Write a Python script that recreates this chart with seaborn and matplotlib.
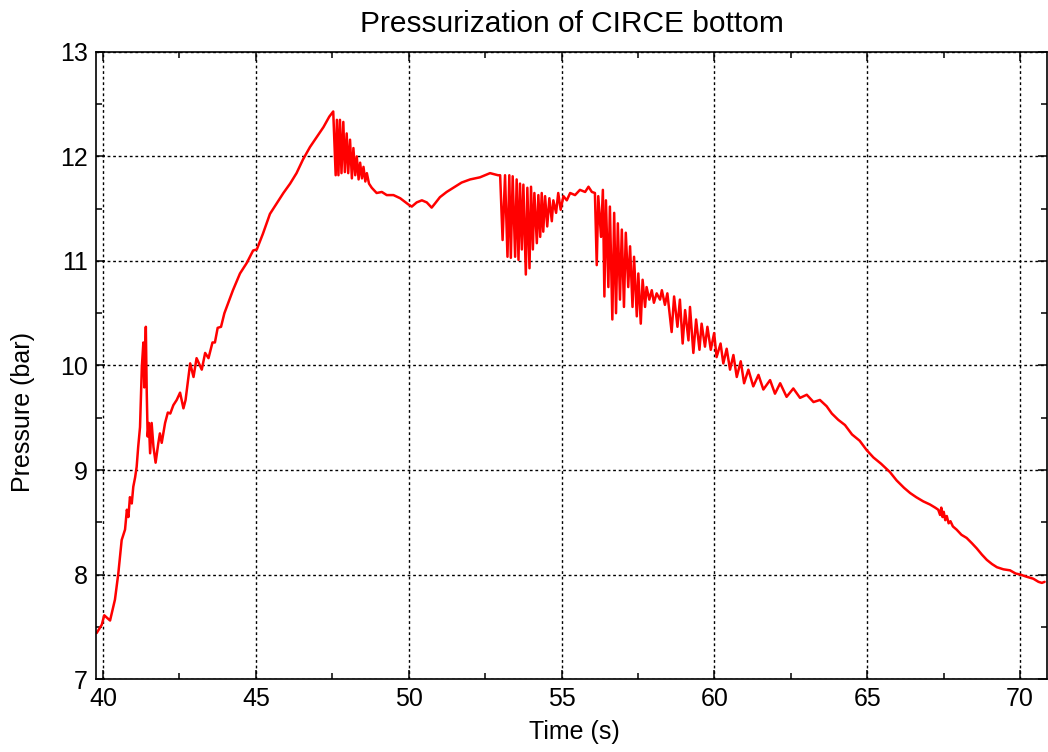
import numpy as np
import matplotlib
matplotlib.use("Agg")
import matplotlib.pyplot as plt
from matplotlib.ticker import MultipleLocator
import seaborn as sns

# pressure trace, split into segments
ramp_t = [39.79, 39.96, 40.04, 40.23, 40.39, 40.50, 40.61, 40.72, 40.78, 40.83,
          40.88, 40.94, 40.99, 41.05, 41.10, 41.15, 41.21, 41.27, 41.32, 41.35,
          41.40, 41.43, 41.46, 41.50, 41.54, 41.59, 41.65, 41.72, 41.81, 41.86,
          41.92, 42.03, 42.12, 42.20, 42.30, 42.41, 42.52, 42.63, 42.70, 42.85,
          42.96, 43.06, 43.23, 43.34, 43.45, 43.58, 43.66, 43.75, 43.86, 43.97]
ramp_p = [7.44, 7.52, 7.61, 7.56, 7.76, 8.01, 8.33, 8.43, 8.62, 8.55,
          8.74, 8.68, 8.84, 8.93, 9.03, 9.22, 9.41, 9.99, 10.22, 9.79,
          10.37, 9.74, 9.32, 9.45, 9.16, 9.45, 9.22, 9.07, 9.26, 9.35,
          9.26, 9.45, 9.55, 9.54, 9.62, 9.67, 9.74, 9.59, 9.67, 10.02,
          9.89, 10.07, 9.96, 10.12, 10.07, 10.22, 10.22, 10.36, 10.37, 10.50]

climb_t = [44.25, 44.48, 44.70, 44.91, 45.03, 45.23, 45.46, 45.68, 45.90, 46.12,
           46.33, 46.54, 46.77, 47.00, 47.21, 47.40, 47.53]
climb_p = [10.72, 10.88, 10.98, 11.10, 11.11, 11.26, 11.45, 11.55, 11.65, 11.74,
           11.84, 11.97, 12.09, 12.19, 12.28, 12.38, 12.43]

peak_t = [47.61, 47.65, 47.70, 47.75, 47.80, 47.86, 47.91, 47.97, 48.02, 48.08,
          48.14, 48.19, 48.25, 48.30, 48.36, 48.41, 48.47, 48.52, 48.58, 48.63,
          48.70, 48.79, 48.95, 49.12, 49.28, 49.50, 49.72, 49.99, 50.10, 50.26,
          50.43, 50.59, 50.75, 50.86, 51.02, 51.24, 51.46, 51.73, 52.01, 52.33,
          52.66, 52.92, 52.99]
peak_p = [11.82, 12.35, 11.82, 12.35, 11.84, 12.33, 11.85, 12.22, 11.84, 12.16,
          11.79, 12.08, 11.82, 12.00, 11.78, 11.94, 11.79, 11.90, 11.76, 11.84,
          11.74, 11.70, 11.65, 11.66, 11.63, 11.63, 11.60, 11.54, 11.52, 11.56,
          11.58, 11.56, 11.51, 11.55, 11.61, 11.66, 11.70, 11.75, 11.78, 11.80,
          11.84, 11.82, 11.82]

burst1_t = [53.07, 53.15, 53.23, 53.29, 53.34, 53.40, 53.48, 53.53, 53.59, 53.64,
            53.70, 53.75, 53.83, 53.88, 53.95, 54.00, 54.06, 54.11, 54.19, 54.24,
            54.30, 54.35, 54.40, 54.46, 54.53, 54.60, 54.68, 54.73, 54.82, 54.89,
            54.97, 55.06, 55.17, 55.28, 55.44, 55.60, 55.77, 55.88, 55.99, 56.09]
burst1_p = [11.20, 11.82, 11.04, 11.82, 11.03, 11.81, 11.04, 11.78, 11.01, 11.74,
            11.11, 11.73, 10.87, 11.70, 10.93, 11.71, 11.11, 11.65, 11.17, 11.63,
            11.23, 11.65, 11.28, 11.62, 11.33, 11.60, 11.38, 11.58, 11.46, 11.65,
            11.49, 11.62, 11.58, 11.65, 11.63, 11.68, 11.66, 11.71, 11.66, 11.65]

burst2_t = [56.15, 56.20, 56.29, 56.35, 56.40, 56.45, 56.53, 56.58, 56.66, 56.72,
            56.78, 56.84, 56.91, 56.97, 57.04, 57.10, 57.18, 57.24, 57.32, 57.37,
            57.46, 57.51, 57.59, 57.65, 57.73, 57.78, 57.87, 57.95, 58.02, 58.11,
            58.22]
burst2_p = [10.96, 11.62, 11.23, 11.68, 10.66, 11.58, 10.75, 11.52, 10.44, 11.46,
            10.50, 11.36, 10.63, 11.30, 10.56, 11.27, 10.75, 11.14, 10.56, 11.04,
            10.47, 10.88, 10.40, 10.82, 10.56, 10.75, 10.63, 10.72, 10.60, 10.69,
            10.63]

decay_t = [58.28, 58.38, 58.46, 58.60, 58.68, 58.79, 58.87, 58.96, 59.04, 59.15,
           59.20, 59.31, 59.40, 59.51, 59.58, 59.69, 59.77, 59.88, 59.99, 60.07,
           60.20, 60.29, 60.40, 60.51, 60.62, 60.73, 60.86, 60.97, 61.11, 61.27,
           61.44, 61.60, 61.82, 61.98, 62.15, 62.36, 62.58, 62.80, 63.02, 63.24,
           63.45, 63.67, 63.84, 64.05]
decay_p = [10.72, 10.58, 10.69, 10.32, 10.66, 10.37, 10.63, 10.21, 10.53, 10.24,
           10.56, 10.12, 10.44, 10.15, 10.40, 10.18, 10.37, 10.15, 10.31, 10.08,
           10.21, 10.02, 10.16, 9.96, 10.10, 9.89, 10.04, 9.83, 9.96, 9.80,
           9.91, 9.77, 9.86, 9.73, 9.83, 9.70, 9.78, 9.69, 9.72, 9.65,
           9.67, 9.61, 9.54, 9.48]

tail_t = [64.27, 64.50, 64.75, 64.98, 65.20, 65.45, 65.74, 65.96, 66.20, 66.40,
          66.60, 66.83, 67.05, 67.22, 67.32, 67.38, 67.42, 67.46, 67.50, 67.55,
          67.60, 67.66, 67.72, 67.80, 67.92, 68.08, 68.25, 68.42, 68.58, 68.75,
          68.91, 69.08, 69.24, 69.45, 69.67, 69.85, 70.00, 70.20, 70.43, 70.60,
          70.71, 70.80]
tail_p = [9.43, 9.34, 9.28, 9.19, 9.12, 9.06, 8.98, 8.90, 8.83, 8.78,
          8.74, 8.70, 8.67, 8.64, 8.62, 8.57, 8.64, 8.55, 8.60, 8.52,
          8.56, 8.49, 8.51, 8.46, 8.43, 8.38, 8.35, 8.30, 8.25, 8.19,
          8.14, 8.10, 8.07, 8.05, 8.04, 8.01, 8.00, 7.98, 7.96, 7.93,
          7.92, 7.93]

time = np.concatenate([ramp_t, climb_t, peak_t, burst1_t, burst2_t, decay_t, tail_t])
pressure = np.concatenate([ramp_p, climb_p, peak_p, burst1_p, burst2_p, decay_p, tail_p])

sns.set_style("ticks")
plt.rcParams['font.family'] = ['Liberation Sans', 'DejaVu Sans']
plt.rcParams['text.color'] = 'black'
plt.rcParams['axes.labelcolor'] = 'black'
plt.rcParams['xtick.color'] = 'black'
plt.rcParams['ytick.color'] = 'black'

fig = plt.figure(figsize=(10.48, 7.52), dpi=100)
ax = fig.add_axes([0.0916, 0.097, 0.9075, 0.834])

sns.lineplot(x=time, y=pressure, ax=ax, color='#ff0000', linewidth=1.8,
             estimator=None, sort=False)

ax.set_xlim(39.77, 70.88)
ax.set_ylim(7, 13)
ax.xaxis.set_major_locator(MultipleLocator(5))
ax.xaxis.set_minor_locator(MultipleLocator(2.5))
ax.yaxis.set_major_locator(MultipleLocator(1))
ax.yaxis.set_minor_locator(MultipleLocator(0.5))

ax.grid(True, which='major', color='black', linestyle=(0, (2, 2)), linewidth=1)
ax.tick_params(which='both', direction='in', top=True, right=True, color='black')
ax.tick_params(which='major', length=6.5, width=1.1, pad=6, labelsize=18)
ax.tick_params(which='minor', length=4, width=1.1)

for s in ax.spines.values():
    s.set_color('black')
    s.set_linewidth(1.2)

ax.set_title('Pressurization of CIRCE bottom', fontsize=21.5, pad=14)
ax.set_xlabel('Time (s)', fontsize=18)
ax.set_ylabel('Pressure (bar)', fontsize=18)
ax.xaxis.set_label_coords(0.503, -0.066)
ax.yaxis.set_label_coords(-0.064, 0.426)

fig.savefig('out.png', dpi=100)
